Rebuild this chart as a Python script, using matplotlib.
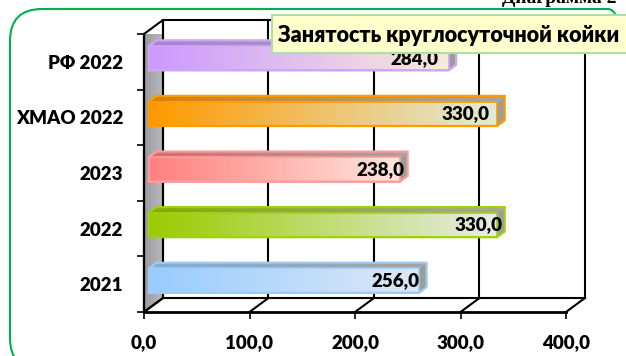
import numpy as np
import matplotlib

matplotlib.use("Agg")
import matplotlib.pyplot as plt
from matplotlib.patches import Polygon, Rectangle, FancyBboxPatch
from matplotlib.transforms import IdentityTransform
from matplotlib.colors import to_rgb

plt.rcParams["font.family"] = ["Lato", "DejaVu Sans"]
plt.rcParams["font.weight"] = "bold"

# данные диаграммы (снизу вверх)
categories = ["2021", "2022", "2023", "ХМАО 2022", "РФ 2022"]
values = [256.0, 330.0, 238.0, 330.0, 284.0]
front_left = ["#99CCFF", "#99CC00", "#FF8080", "#FF9900", "#CC99FF"]
front_right = ["#DDE8F5", "#E8EBE4", "#FFE6DC", "#E0EBD6", "#F8EADA"]
edge_colors = ["#9CCBF5", "#A0D010", "#FF9C9C", "#FF9900", "#CFA6F5"]
x_ticks = [0, 100, 200, 300, 400]
title = "Занятость круглосуточной койки"

# псевдо-3D: глубина в единицах данных
DX, DY = 18.0, 0.252
F1, F2 = 0.26, 0.66          # передняя и задняя грань столбика по глубине
BAR_H = 0.44
LABEL_NUDGE = [0, 5, 4, -7, -10]  # сдвиг подписей, ед. оси X

W, H = 626, 356
fig = plt.figure(figsize=(W / 100, H / 100), dpi=100)
ax = fig.add_axes([144 / W, (H - 312) / H, 422 / W, 278 / H])
ax.set_facecolor("none")


def hgrad(c0, c1, n=64):
    a, b = np.array(to_rgb(c0)), np.array(to_rgb(c1))
    t = np.linspace(0, 1, n)[:, None]
    return (a + (b - a) * t)[None, :, :]


def fill_grad(poly_xy, c0, c1, z):
    poly = Polygon(poly_xy, closed=True, facecolor="none", edgecolor="none")
    ax.add_patch(poly)
    xs, ys = zip(*poly_xy)
    im = ax.imshow(hgrad(c0, c1), extent=[min(xs), max(xs), min(ys), max(ys)],
                   aspect="auto", interpolation="bilinear", zorder=z)
    im.set_clip_path(poly)


def darker(c, k):
    return tuple(np.array(to_rgb(c)) * k)


y0, y1 = -0.5, 4.5
xmax = x_ticks[-1]

# левая стенка
wall = [(0, y0), (DX, y0 + DY), (DX, y1 + DY), (0, y1)]
fill_grad(wall, "#9A9A9E", "#BABABE", 1)
ax.add_patch(Polygon(wall, closed=True, facecolor="none", edgecolor="black", lw=1.5,
                     zorder=2, clip_on=False))

# задняя стенка: сетка, пол и рамка
for v in x_ticks:
    ax.plot([v + DX, v + DX], [y0 + DY, y1 + DY], color="black", lw=1.5, zorder=2.5,
            clip_on=False)
    ax.plot([v, v + DX], [y0, y0 + DY], color="black", lw=1.5, zorder=2.5, clip_on=False)
ax.plot([DX, xmax + DX], [y1 + DY, y1 + DY], color="black", lw=1.5, zorder=2.5, clip_on=False)
ax.plot([DX, xmax + DX], [y0 + DY, y0 + DY], color="black", lw=1.5, zorder=2.5, clip_on=False)

# столбики
for i, (v, cl, cr, ec) in enumerate(zip(values, front_left, front_right, edge_colors)):
    bx0, by0 = F1 * DX, i - BAR_H / 2 + F1 * DY
    bx1, by1 = v + F1 * DX, i + BAR_H / 2 + F1 * DY
    ddx, ddy = (F2 - F1) * DX, (F2 - F1) * DY
    top = [(bx0, by1), (bx1, by1), (bx1 + ddx, by1 + ddy), (bx0 + ddx, by1 + ddy)]
    fill_grad(top, darker(cl, 0.85), "#A4A4A0", 3)
    side = [(bx1, by0), (bx1, by1), (bx1 + ddx, by1 + ddy), (bx1 + ddx, by0 + ddy)]
    ax.add_patch(Polygon(side, closed=True, facecolor="#9C9C98", edgecolor="none", zorder=3))
    fill_grad([(bx0, by0), (bx1, by0), (bx1, by1), (bx0, by1)], cl, cr, 4)
    outline = [(bx0, by0), (bx1, by0), (bx1 + ddx, by0 + ddy), (bx1 + ddx, by1 + ddy),
               (bx0 + ddx, by1 + ddy), (bx0, by1)]
    ax.add_patch(Polygon(outline, closed=True, facecolor="none", edgecolor=ec, lw=1.6, zorder=5))
    ax.add_patch(Rectangle((bx0, by0), v, BAR_H, facecolor="none", edgecolor=ec, lw=1.2, zorder=5))
    ax.text(bx1 + LABEL_NUDGE[i], i + F1 * DY, f"{v:.1f}".replace(".", ","),
            ha="right", va="center", fontsize=13.5, fontweight="heavy", zorder=6)

ax.set_xlim(0, xmax)
ax.set_ylim(y0, y1)

for s in ["top", "right"]:
    ax.spines[s].set_visible(False)
ax.spines["left"].set_linewidth(1.6)
ax.spines["bottom"].set_linewidth(2.0)
ax.spines["left"].set_zorder(7)
ax.spines["bottom"].set_zorder(7)

ax.set_xticks(x_ticks)
ax.set_xticklabels([f"{t:.1f}".replace(".", ",") for t in x_ticks])
ax.set_yticks(range(len(categories)))
ax.set_yticklabels(categories)
ax.set_yticks(np.arange(y0, y1 + 0.1, 1.0), minor=True)
ax.tick_params(axis="x", length=5, width=1.2, pad=11, labelsize=13.5)
ax.tick_params(axis="y", which="major", length=0, pad=15, labelsize=13.5)
ax.tick_params(axis="y", which="minor", length=5, width=1.2)
for lab in ax.get_xticklabels() + ax.get_yticklabels():
    lab.set_fontweight("heavy")

# рамка диаграммы и заголовок
px = IdentityTransform()
fig.patches.append(FancyBboxPatch((10, -14), 630, 361, boxstyle="round,pad=0,rounding_size=32",
                                  transform=px, facecolor="none", edgecolor="#00B050", lw=1.5,
                                  zorder=0))
fig.patches.append(Rectangle((272, H - 53), 400, 38, transform=px, facecolor="#FFFFCC",
                             edgecolor="#A6E3A0", lw=1.5, zorder=10))
fig.text(278, H - 42, title, transform=px, ha="left", va="baseline",
         fontsize=15.5, fontweight="heavy", zorder=11)
fig.text(502, H - 3, "Диаграмма 2", transform=px, ha="left", va="baseline",
         fontsize=14, fontweight="bold", family=["Liberation Serif", "DejaVu Serif"], zorder=11)

fig.savefig("out.png", dpi=100)
